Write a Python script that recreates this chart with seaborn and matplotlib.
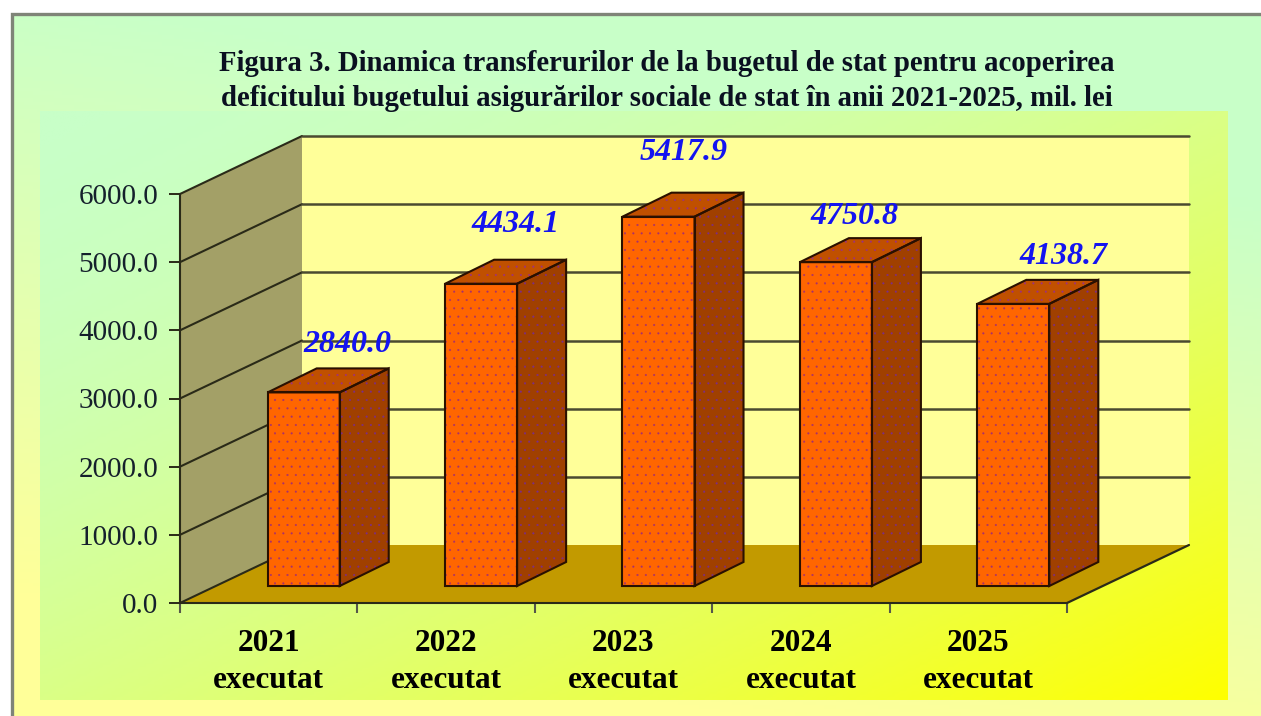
import numpy as np
import matplotlib
matplotlib.use("Agg")
import matplotlib.pyplot as plt
from matplotlib.colors import LinearSegmentedColormap
from matplotlib.patches import Polygon, Rectangle
from matplotlib.transforms import IdentityTransform
import seaborn as sns

years = ["2021", "2022", "2023", "2024", "2025"]
status = "executat"
values = [2840.0, 4434.1, 5417.9, 4750.8, 4138.7]
value_labels = ["2840.0", "4434.1", "5417.9", "4750.8", "4138.7"]
label_shift_x = [44, 34, 25, 19, 50]
label_shift_y = [48, 59, 64, 46, 47]
y_ticks = [0, 1000, 2000, 3000, 4000, 5000, 6000]
title = ("Figura 3. Dinamica transferurilor de la bugetul de stat pentru acoperirea\n"
         "deficitului bugetului asigurărilor sociale de stat în anii 2021-2025, mil. lei")

W, H = 1261, 716
sns.set_style("white")
plt.rcParams["font.family"] = ["Liberation Serif", "DejaVu Serif"]
plt.rcParams["hatch.linewidth"] = 0.25
DARK = "#2a2a18"
DOT = "#a8306c"

fig = plt.figure(figsize=(W / 100, H / 100), dpi=100, facecolor="white")


def box(x0, y0, x1, y1):
    # pixel box, y from the top of the picture
    return [x0 / W, 1 - y1 / H, (x1 - x0) / W, (y1 - y0) / H]


# backgrounds
bg = fig.add_axes([0, 0, 1, 1], zorder=0)
bg.set_xlim(0, W)
bg.set_ylim(H, 0)
bg.axis("off")

u, v = np.meshgrid(np.linspace(0, 1, 300), np.linspace(0, 1, 200))
outer = LinearSegmentedColormap.from_list("outer", ["#c8ffc8", "#ffff99"])
inner = LinearSegmentedColormap.from_list("inner", ["#c8ffc8", "#ffff00"])
bg.imshow(np.clip(1.15 * v + 0.35 * (1 - u) - 0.3, 0, 1), cmap=outer, vmin=0, vmax=1,
          extent=(12, W, H, 14), aspect="auto", zorder=1)
bg.imshow(((u + v) / 2) ** 1.6, cmap=inner, vmin=0, vmax=1,
          extent=(40, 1228, 700, 111), aspect="auto", zorder=2)
bg.plot([11.5, 11.5, W], [H, 14, 14], color="#7f8478", lw=2.4, zorder=3, solid_joinstyle="miter")
bg.set_xlim(0, W)
bg.set_ylim(H, 0)

# main axes, front plane of the 3d box
ax = fig.add_axes(box(180, 194, 1067, 603), zorder=1)
ax.patch.set_alpha(0)
ax.set_xlim(-0.5, 4.5)
ax.set_ylim(0, 6000)
for side in ["top", "right"]:
    ax.spines[side].set_visible(False)
for side in ["left", "bottom"]:
    ax.spines[side].set_color(DARK)
    ax.spines[side].set_linewidth(1.5)
    ax.spines[side].set_zorder(5)
ax.set_yticks(y_ticks)
ax.set_yticklabels([f"{t:.1f}" for t in y_ticks], fontsize=21, color="#15202c")
ax.tick_params(axis="y", length=8, width=1.4, color=DARK, pad=7.5, left=True)
ax.set_xticks(np.arange(-0.5, 5, 1))
ax.set_xticklabels([])
ax.tick_params(axis="x", which="major", length=7, width=1.5, color="#55584a", bottom=True)
ax.set_xticks(range(5), [f"{y}\n{status}" for y in years], minor=True)
ax.tick_params(axis="x", which="minor", length=0, pad=18.5, labelsize=22.5)
for t in ax.get_xticklabels(minor=True):
    t.set_fontweight("bold")
    t.set_linespacing(1.36)
    t.set_color("black")

# depth of the box in pixels
DX, DY = 122, 58
p0 = ax.transData.transform((-0.5, 0))
p1 = ax.transData.transform((4.5, 0))
ptop = ax.transData.transform((-0.5, 6000))
idt = IdentityTransform()


def poly(points, **kw):
    ax.add_patch(Polygon(points, closed=True, transform=idt, clip_on=False, **kw))


poly([(p0[0] + DX, p0[1] + DY), (p1[0] + DX, p1[1] + DY), (p1[0] + DX, ptop[1] + DY),
      (p0[0] + DX, ptop[1] + DY)], fc="#ffff99", ec="none", zorder=0.5)
poly([p0, (p0[0] + DX, p0[1] + DY), (p0[0] + DX, ptop[1] + DY), ptop],
     fc="#a3a067", ec="none", zorder=0.6)
poly([p0, p1, (p1[0] + DX, p1[1] + DY), (p0[0] + DX, p0[1] + DY)],
     fc="#c29a00", ec="none", zorder=0.7)

for t in y_ticks:
    a = ax.transData.transform((-0.5, t))
    b = (a[0] + DX, a[1] + DY)
    ax.plot([a[0], b[0]], [a[1], b[1]], color=DARK, lw=1.5, transform=idt, clip_on=False, zorder=1)
    if t > 0:
        ax.plot([b[0], p1[0] + DX], [b[1], b[1]], color="#4a4a30", lw=1.8, transform=idt,
                clip_on=False, zorder=1)
ax.plot([p1[0], p1[0] + DX], [p1[1], p1[1] + DY], color=DARK, lw=1.6, transform=idt,
        clip_on=False, zorder=1)

# bars sit part way into the box, so they get an axes of their own
ax_bar = fig.add_axes(box(215, 177, 1102, 586), zorder=2)
sns.barplot(x=years, y=values, ax=ax_bar, color="#ff6600", saturation=1, width=0.406,
            hatch="..", edgecolor=DOT, linewidth=0)
ax_bar.set_xlim(-0.5, 4.5)
ax_bar.set_ylim(0, 6000)
ax_bar.axis("off")

BX, BY = 49, 24
for i, bar in enumerate(list(ax_bar.patches)):
    x0, x1 = bar.get_x(), bar.get_x() + bar.get_width()
    h = bar.get_height()
    br = ax_bar.transData.transform((x1, 0))
    tl = ax_bar.transData.transform((x0, h))
    tr = ax_bar.transData.transform((x1, h))
    side = [br, tr, (tr[0] + BX, tr[1] + BY), (br[0] + BX, br[1] + BY)]
    top = [tl, tr, (tr[0] + BX, tr[1] + BY), (tl[0] + BX, tl[1] + BY)]
    for pts, col, dots in ((side, "#a04000", "#7c2c88"), (top, "#c05000", "#9c3080")):
        ax_bar.add_patch(Polygon(pts, closed=True, transform=idt, clip_on=False, fc=col,
                                 ec=dots, lw=0, hatch="..", zorder=3))
        ax_bar.add_patch(Polygon(pts, closed=True, transform=idt, clip_on=False, fill=False,
                                 ec="#2a1000", lw=1.5, zorder=4))
    ax_bar.add_patch(Rectangle((x0, 0), x1 - x0, h, fill=False, ec="#2a1000", lw=1.5,
                               clip_on=False, zorder=4))
    ax_bar.annotate(value_labels[i], xy=((x0 + x1) / 2, h),
                    xytext=(label_shift_x[i], label_shift_y[i]), textcoords="offset pixels",
                    ha="center", va="center", fontsize=23, color="#1414f0",
                    fontweight="bold", fontstyle="italic", annotation_clip=False, zorder=6)

fig.text(667 / W, 1 - 81 / H, title, ha="center", va="center", fontsize=20.7, fontweight="bold",
         color="#0a1020", linespacing=1.42)

fig.savefig("out.png", dpi=100)
